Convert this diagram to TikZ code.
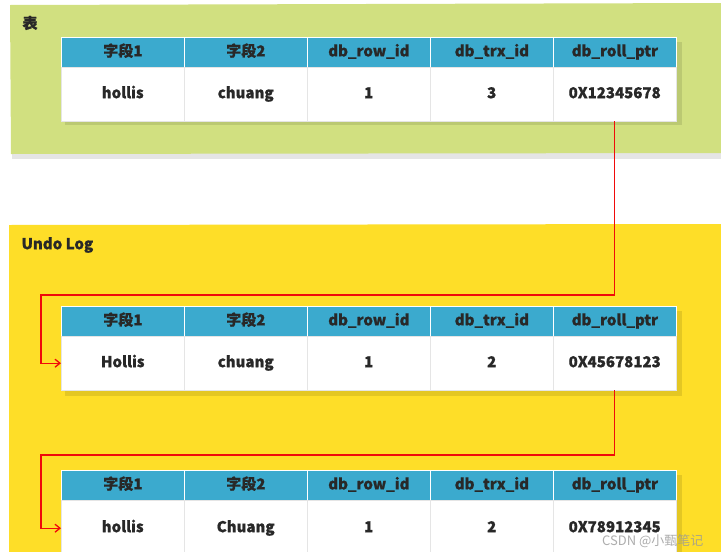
\documentclass[tikz,border=0pt]{standalone}
\usepackage{fontspec}
\setmainfont[FakeBold=0.9]{Noto Sans CJK SC}
\newfontfamily\plainfont{Noto Sans CJK SC}
\usetikzlibrary{arrows.meta}
\definecolor{greenbg}{RGB}{209,224,128}
\definecolor{yellowbg}{RGB}{254,222,40}
\definecolor{hdrblue}{RGB}{59,170,206}
\definecolor{ink}{RGB}{40,40,40}
\definecolor{redline}{RGB}{240,10,10}
\tikzset{
  cellfont/.style={text=ink, font=\fontsize{15}{15}\selectfont\bfseries, text height=11pt, text depth=3pt},
  hcell/.style={cellfont, draw=white, line width=0.8pt, fill=hdrblue, minimum width=123pt, minimum height=30pt, inner sep=0pt, anchor=north west},
  dcell/.style={cellfont, draw=white!90!black, line width=0.4pt, fill=white, minimum width=123pt, inner sep=0pt, anchor=north west},
  link/.style={draw=redline, line width=1.3pt, -{Straight Barb[length=5pt,width=8pt]}},
  tshadow/.style={fill=black, opacity=0.10},
  panellabel/.style={anchor=west, text=ink, font=\fontsize{15}{15}\selectfont\bfseries}
}
\begin{document}
\begin{tikzpicture}[x=1pt,y=-1pt]
\useasboundingbox (0,0) rectangle (721,552);
\fill[white] (0,0) rectangle (721,552);
% green panel
\fill[black!10] (12,150) rectangle (721,159);
\fill[greenbg] (10,5) -- (721,3) -- (721,153) -- (11,154) -- cycle;
\node[panellabel] (lbl1) at (19,23) {表};
% yellow panel
\fill[yellowbg] (9,225) -- (721,224) -- (721,552) -- (9,552) -- cycle;
\node[panellabel] (lbl2) at (18,245) {Undo Log};
% table shadows
\fill[tshadow] (65,42) rectangle (682,125);
\fill[tshadow] (65,311) rectangle (682,396);
\fill[tshadow] (65,475) rectangle (682,552);
% table 1
\node[hcell] (t1h1) at (61,37) {字段1};
\node[hcell] (t1h2) at (184,37) {字段2};
\node[hcell] (t1h3) at (307,37) {db\_row\_id};
\node[hcell] (t1h4) at (430,37) {db\_trx\_id};
\node[hcell] (t1h5) at (553,37) {db\_roll\_ptr};
\node[dcell, minimum height=54pt] (t1d1) at (61,67) {hollis};
\node[dcell, minimum height=54pt] (t1d2) at (184,67) {chuang};
\node[dcell, minimum height=54pt] (t1d3) at (307,67) {1};
\node[dcell, minimum height=54pt] (t1d4) at (430,67) {3};
\node[dcell, minimum height=54pt] (t1d5) at (553,67) {0X12345678};
% table 2
\node[hcell] (t2h1) at (61,306) {字段1};
\node[hcell] (t2h2) at (184,306) {字段2};
\node[hcell] (t2h3) at (307,306) {db\_row\_id};
\node[hcell] (t2h4) at (430,306) {db\_trx\_id};
\node[hcell] (t2h5) at (553,306) {db\_roll\_ptr};
\node[dcell, minimum height=54pt] (t2d1) at (61,336) {Hollis};
\node[dcell, minimum height=54pt] (t2d2) at (184,336) {chuang};
\node[dcell, minimum height=54pt] (t2d3) at (307,336) {1};
\node[dcell, minimum height=54pt] (t2d4) at (430,336) {2};
\node[dcell, minimum height=54pt] (t2d5) at (553,336) {0X45678123};
% table 3
\node[hcell] (t3h1) at (61,470) {字段1};
\node[hcell] (t3h2) at (184,470) {字段2};
\node[hcell] (t3h3) at (307,470) {db\_row\_id};
\node[hcell] (t3h4) at (430,470) {db\_trx\_id};
\node[hcell] (t3h5) at (553,470) {db\_roll\_ptr};
\node[dcell, minimum height=56pt] (t3d1) at (61,500) {hollis};
\node[dcell, minimum height=56pt] (t3d2) at (184,500) {Chuang};
\node[dcell, minimum height=56pt] (t3d3) at (307,500) {1};
\node[dcell, minimum height=56pt] (t3d4) at (430,500) {2};
\node[dcell, minimum height=56pt] (t3d5) at (553,500) {0X78912345};
% links
\coordinate (c1) at (41,295);
\coordinate (c2) at (41,455);
\draw[link] (t1d5.south) |- (c1) |- (t2d1.west);
\draw[link] (t2d5.south) |- (c2) |- (t3d1.west);
% watermark
\node[anchor=east, text=black!40, opacity=0.8, font=\plainfont\fontsize{13}{13}\selectfont] (wm) at (707,541) {CSDN @小甄笔记};
\end{tikzpicture}
\end{document}
